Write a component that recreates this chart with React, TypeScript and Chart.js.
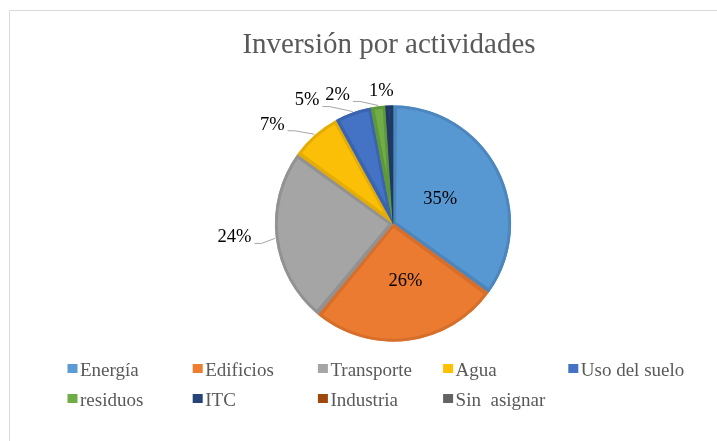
import React, { useEffect, useRef } from "react";
import { Chart, registerables } from "chart.js";

Chart.register(...registerables);

// ---- data ----
const chartTitle = "Inversión por actividades";
const categories = [
  "Energía",
  "Edificios",
  "Transporte",
  "Agua",
  "Uso del suelo",
  "residuos",
  "ITC",
  "Industria",
  "Sin  asignar",
];
const shares = [35, 26, 24, 7, 5, 2, 1, 0, 0];
const shareLabels = ["35%", "26%", "24%", "7%", "5%", "2%", "1%", "", ""];

// ---- style ----
const fillColors = [
  "#5797D2",
  "#EA7B30",
  "#A5A5A5",
  "#FBBF08",
  "#4472C4",
  "#70AD47",
  "#264478",
  "#9E480E",
  "#636363",
];
const legendColors = [
  "#5B9BD5",
  "#ED7D31",
  "#A5A5A5",
  "#FFC000",
  "#4472C4",
  "#70AD47",
  "#264478",
  "#9E480E",
  "#636363",
];
const edgeColors = [
  "#4C86BC",
  "#D66F2B",
  "#929292",
  "#E3AC06",
  "#3A64AF",
  "#5F983B",
  "#1F3964",
  "#873C0B",
  "#555555",
];
// label placement relative to each slice (inside: fraction of radius; outside: offset from rim point)
const labelPlacement: any[] = [
  { mode: "in", r: 0.45, dx: 0, dy: 0 },
  { mode: "in", r: 0.5, dx: 5, dy: -1 },
  { mode: "out", dx: -40.5, dy: -1, leader: true },
  { mode: "out", dx: -42, dy: -9.5, leader: true },
  { mode: "out", dx: -45.6, dy: -11, leader: true },
  { mode: "out", dx: -40.5, dy: -10, leader: true },
  { mode: "out", dx: -8, dy: -13, leader: false },
  null,
  null,
];

const SERIF = "'Liberation Serif', 'Times New Roman', serif";

const decorPlugin = {
  id: "decor",
  beforeDraw(chart: any) {
    const ctx = chart.ctx;
    ctx.save();
    ctx.fillStyle = "#ffffff";
    ctx.fillRect(0, 0, chart.width, chart.height);
    ctx.strokeStyle = "#d9d9d9";
    ctx.lineWidth = 1;
    ctx.beginPath();
    ctx.moveTo(9.5, chart.height);
    ctx.lineTo(9.5, 10.5);
    ctx.lineTo(chart.width, 10.5);
    ctx.stroke();
    // title
    ctx.fillStyle = "#595959";
    ctx.font = `29px ${SERIF}`;
    ctx.textAlign = "center";
    ctx.textBaseline = "alphabetic";
    ctx.fillText(chartTitle, 389, 53);
    ctx.restore();
  },
  afterDatasetsDraw(chart: any) {
    const ctx = chart.ctx;
    const meta = chart.getDatasetMeta(0);
    ctx.save();
    ctx.font = `18.5px ${SERIF}`;
    ctx.textAlign = "center";
    ctx.textBaseline = "middle";
    meta.data.forEach((arc: any, i: number) => {
      const p = labelPlacement[i];
      const txt = shareLabels[i];
      if (!p || !txt) return;
      const { x, y, startAngle, endAngle, outerRadius } = arc.getProps(
        ["x", "y", "startAngle", "endAngle", "outerRadius"],
        true
      );
      const mid = (startAngle + endAngle) / 2;
      let lx: number, ly: number;
      if (p.mode === "in") {
        lx = x + Math.cos(mid) * outerRadius * p.r + p.dx;
        ly = y + Math.sin(mid) * outerRadius * p.r + p.dy;
      } else {
        const ex = x + Math.cos(mid) * (outerRadius + 1);
        const ey = y + Math.sin(mid) * (outerRadius + 1);
        lx = ex + p.dx;
        ly = ey + p.dy;
        if (p.leader) {
          const w = ctx.measureText(txt).width;
          const sx = lx + w / 2 + 3;
          const sy = ly + 6;
          ctx.strokeStyle = "#a6a6a6";
          ctx.lineWidth = 1;
          ctx.beginPath();
          ctx.moveTo(sx, sy);
          ctx.lineTo(sx + 7, sy);
          ctx.lineTo(ex, ey);
          ctx.stroke();
        }
      }
      ctx.fillStyle = "#000000";
      ctx.fillText(txt, lx, ly);
    });
    ctx.restore();
  },
  afterDraw(chart: any) {
    const ctx = chart.ctx;
    ctx.save();
    ctx.font = `19px ${SERIF}`;
    ctx.textAlign = "left";
    ctx.textBaseline = "alphabetic";
    const cols = 5;
    const x0 = 67.5;
    const colW = 125.2;
    const rowBase = [376, 406];
    categories.forEach((name, i) => {
      const c = i % cols;
      const r = Math.floor(i / cols);
      const bx = x0 + c * colW;
      const by = rowBase[r] - 12;
      ctx.fillStyle = legendColors[i];
      ctx.fillRect(bx, by, 10, 9);
      ctx.fillStyle = "#595959";
      ctx.fillText(name, bx + 12.5, rowBase[r]);
    });
    ctx.restore();
  },
};

export default function App() {
  const ref = useRef<HTMLCanvasElement | null>(null);
  useEffect(() => {
    if (!ref.current) return;
    const chart = new Chart(ref.current, {
      type: "pie",
      data: {
        labels: categories,
        datasets: [
          {
            data: shares,
            backgroundColor: fillColors,
            borderColor: edgeColors,
            borderWidth: 3,
            borderAlign: "inner",
            spacing: 1,
          } as any,
        ],
      },
      options: {
        responsive: false,
        animation: false,
        devicePixelRatio: 1,
        layout: { padding: { top: 105, bottom: 99, left: 169, right: 100 } },
        plugins: {
          legend: { display: false },
          tooltip: { enabled: false },
          title: { display: false },
        },
      },
      plugins: [decorPlugin],
    });
    return () => chart.destroy();
  }, []);
  return (
    <canvas
      ref={ref}
      width={717}
      height={441}
      style={{ position: "fixed", left: 0, top: 0, width: 717, height: 441 }}
    />
  );
}
